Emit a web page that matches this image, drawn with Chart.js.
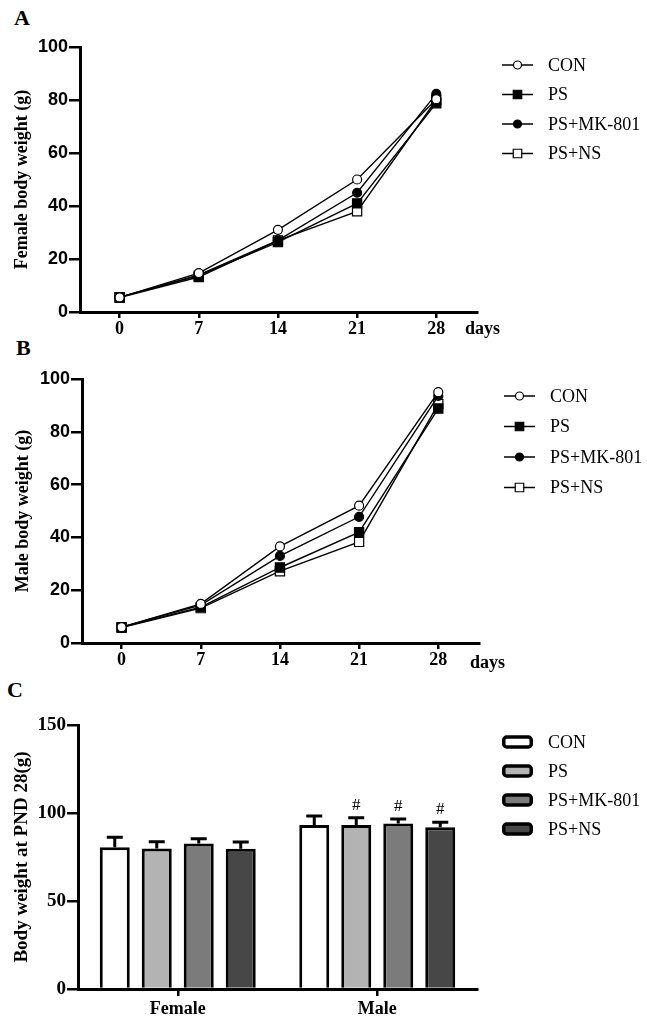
<!DOCTYPE html>
<html>
<head>
<meta charset="utf-8">
<script src="https://cdn.jsdelivr.net/npm/chart.js@4.4.1/dist/chart.umd.min.js"></script>
<style>
  body { margin: 0; background: #fff; }
  #wrap { position: relative; width: 647px; height: 1022px; }
  canvas { position: absolute; left: 0; }
  .tag { position: absolute; font: bold 22px "Liberation Serif", "Times New Roman", serif; line-height: 1; color: #000; }
</style>
</head>
<body>
<div id="wrap">
  <div class="tag" style="left:14px;top:7px">A</div>
  <div class="tag" style="left:16px;top:337px">B</div>
  <div class="tag" style="left:7px;top:679px">C</div>
  <canvas id="chartA" width="647" height="340" style="top:0;width:647px;height:340px"></canvas>
  <canvas id="chartB" width="647" height="335" style="top:340px;width:647px;height:335px"></canvas>
  <canvas id="chartC" width="647" height="347" style="top:675px;width:647px;height:347px"></canvas>
</div>
<script>
const serif = '"Liberation Serif", "Times New Roman", serif';
const sans = '"Liberation Sans", Arial, sans-serif';

// data
const days = [0, 7, 14, 21, 28];
const groupNames = ["CON", "PS", "PS+MK-801", "PS+NS"];

const femaleCon = [5.5, 14.7, 31.0, 50.0, 80.3];
const femalePs = [5.6, 13.7, 26.4, 41.0, 78.8];
const femaleMk = [5.5, 14.0, 27.0, 45.0, 82.3];
const femaleNs = [5.4, 13.2, 27.0, 38.0, 80.0];

const maleCon = [6.0, 14.8, 36.6, 52.0, 95.0];
const malePs = [6.0, 13.6, 28.6, 42.0, 88.8];
const maleMk = [6.0, 14.4, 33.0, 47.8, 93.6];
const maleNs = [5.8, 13.2, 27.2, 38.3, 90.5];

const sexes = ["Female", "Male"];
const pndCon = [80.5, 93.2];
const pndPs = [79.9, 93.2];
const pndMk = [82.6, 94.1];
const pndNs = [79.7, 91.9];
const semCon = [5.7, 5.1];
const semPs = [3.8, 4.1];
const semMk = [2.8, 2.5];
const semNs = [3.8, 2.8];
const marksCon = ["", ""];
const marksPs = ["", "#"];
const marksMk = ["", "#"];
const marksNs = ["", "#"];

const weightTicks = [0, 20, 40, 60, 80, 100];

// styles
const markers = [
  { pointStyle: "circle", pointRadius: 4.5, pointBackgroundColor: "#fff" },
  { pointStyle: "rect", pointRadius: 6.5, pointBackgroundColor: "#000" },
  { pointStyle: "circle", pointRadius: 4.5, pointBackgroundColor: "#000" },
  { pointStyle: "rect", pointRadius: 6.5, pointBackgroundColor: "#fff" },
];
const barFills = ["#ffffff", "#b3b3b3", "#7b7b7b", "#474747"];

//legend at the right side
const sideLegend = {
  id: "sideLegend",
  afterDraw(chart, args, opts) {
    const ctx = chart.ctx;
    ctx.save();
    chart.data.datasets.forEach((ds, i) => {
      const y = opts.y + i * opts.gap;
      if (opts.kind === "line") {
        ctx.strokeStyle = "#000";
        ctx.lineWidth = 1.5;
        ctx.beginPath();
        ctx.moveTo(opts.x, y);
        ctx.lineTo(opts.x + 31, y);
        ctx.stroke();
        ctx.fillStyle = ds.pointBackgroundColor;
        ctx.lineWidth = ds.pointBorderWidth;
        Chart.helpers.drawPoint(ctx, {
          pointStyle: ds.pointStyle, radius: ds.pointRadius - 0.5, rotation: 0, borderWidth: ds.pointBorderWidth,
        }, opts.x + 15.5, y);
      } else {
        ctx.fillStyle = ds.backgroundColor;
        ctx.strokeStyle = "#000";
        ctx.lineWidth = 3.5;
        ctx.beginPath();
        ctx.roundRect(opts.x + 1.75, y - 5, 27.5, 10, 3);
        ctx.fill();
        ctx.stroke();
      }
      ctx.fillStyle = "#000";
      ctx.font = "18px " + serif;
      ctx.textAlign = "left";
      ctx.textBaseline = "middle";
      ctx.fillText(ds.label, opts.textX, y + 1);
    });
    ctx.restore();
  },
};

//"days" after the last tick
const axisNote = {
  id: "axisNote",
  afterDraw(chart, args, opts) {
    if (!opts.text) return;
    const ctx = chart.ctx;
    ctx.save();
    ctx.fillStyle = "#000";
    ctx.font = "bold 18px " + serif;
    ctx.textBaseline = "middle";
    ctx.fillText(opts.text, opts.x, opts.y);
    ctx.restore();
  },
};

//one-sided error bars and # marks
const errorBars = {
  id: "errorBars",
  afterDatasetsDraw(chart) {
    if (chart.config.type !== "bar") return;
    const ctx = chart.ctx;
    const ys = chart.scales.y;
    ctx.save();
    ctx.strokeStyle = "#000";
    ctx.lineWidth = 3;
    chart.data.datasets.forEach((ds, i) => {
      chart.getDatasetMeta(i).data.forEach((bar, j) => {
        const top = ys.getPixelForValue(ds.data[j] + ds.sem[j]);
        ctx.beginPath();
        ctx.moveTo(bar.x, bar.y);
        ctx.lineTo(bar.x, top);
        ctx.moveTo(bar.x - 8, top);
        ctx.lineTo(bar.x + 8, top);
        ctx.stroke();
        if (ds.marks[j]) {
          ctx.fillStyle = "#000";
          ctx.font = "17px " + serif;
          ctx.textAlign = "center";
          ctx.textBaseline = "bottom";
          ctx.fillText(ds.marks[j], bar.x, top - 4);
        }
      });
    });
    ctx.restore();
  },
};

function lineSets(series) {
  return series.map((vals, i) => ({
    label: groupNames[i],
    data: days.map((d, k) => ({ x: d, y: vals[k] })),
    borderColor: "#000",
    borderWidth: 1.4,
    pointBorderColor: "#000",
    pointBorderWidth: 1.2,
    ...markers[i],
  }));
}

function weightChart(id, series, title, box) {
  return new Chart(document.getElementById(id), {
    type: "line",
    data: { datasets: lineSets(series) },
    plugins: [sideLegend, axisNote],
    options: {
      responsive: false,
      animation: false,
      layout: { padding: { left: 0, right: box.right, top: box.top, bottom: 0 } },
      plugins: {
        legend: { display: false },
        tooltip: { enabled: false },
        sideLegend: { kind: "line", x: box.legX, y: box.legY, gap: box.legGap, textX: box.legX + 46 },
        axisNote: { text: "days", x: box.daysX, y: box.daysY },
      },
      scales: {
        x: {
          type: "linear",
          min: -3.5,
          max: 31.6,
          afterBuildTicks: (s) => { s.ticks = days.map((v) => ({ value: v })); },
          afterFit: (s) => { s.height = box.xh; },
          border: { color: "#000", width: 3 },
          grid: { drawOnChartArea: false, color: "#000", lineWidth: 2.5, tickLength: 6 },
          ticks: { color: "#000", padding: 1, font: { family: serif, size: 18, weight: "bold" } },
        },
        y: {
          min: 0,
          max: 100,
          afterBuildTicks: (s) => { s.ticks = weightTicks.map((v) => ({ value: v })); },
          afterFit: (s) => { s.width = box.left; },
          border: { color: "#000", width: 3 },
          grid: { drawOnChartArea: false, color: "#000", lineWidth: 2.5, tickLength: 11 },
          ticks: { color: "#000", padding: 1, font: { family: sans, size: 18, weight: "bold" } },
          title: {
            display: true,
            text: title,
            color: "#000",
            padding: { top: box.titlePad, bottom: 0 },
            font: { family: serif, size: 18, weight: "bold" },
          },
        },
      },
    },
  });
}

weightChart("chartA", [femaleCon, femalePs, femaleMk, femaleNs], "Female body weight (g)", {
  left: 80, right: 170, top: 47, xh: 28,
  legX: 502, legY: 65, legGap: 29.5,
  daysX: 465, daysY: 329, titlePad: 12,
});

weightChart("chartB", [maleCon, malePs, maleMk, maleNs], "Male body weight (g)", {
  left: 82, right: 168, top: 39, xh: 32,
  legX: 504, legY: 56, legGap: 30.5,
  daysX: 470, daysY: 323, titlePad: 13,
});

new Chart(document.getElementById("chartC"), {
  type: "bar",
  data: {
    labels: sexes,
    datasets: [
      { label: groupNames[0], data: pndCon, sem: semCon, marks: marksCon },
      { label: groupNames[1], data: pndPs, sem: semPs, marks: marksPs },
      { label: groupNames[2], data: pndMk, sem: semMk, marks: marksMk },
      { label: groupNames[3], data: pndNs, sem: semNs, marks: marksNs },
    ].map((ds, i) => ({
      ...ds,
      backgroundColor: barFills[i],
      borderColor: "#000",
      borderWidth: 3,
      categoryPercentage: 0.842,
      barPercentage: 0.714,
    })),
  },
  plugins: [sideLegend, errorBars],
  options: {
    responsive: false,
    animation: false,
    layout: { padding: { left: 0, right: 170, top: 50, bottom: 0 } },
    plugins: {
      legend: { display: false },
      tooltip: { enabled: false },
      sideLegend: { kind: "bar", x: 502, y: 67, gap: 29, textX: 548 },
    },
    scales: {
      x: {
        afterFit: (s) => { s.height = 33; },
        border: { color: "#000", width: 3 },
        grid: { offset: false, drawOnChartArea: false, color: "#000", lineWidth: 2.5, tickLength: 7 },
        ticks: { color: "#000", padding: 3, font: { family: serif, size: 18, weight: "bold" } },
      },
      y: {
        min: 0,
        max: 150,
        ticks: { stepSize: 50, color: "#000", padding: 1, font: { family: serif, size: 19, weight: "bold" } },
        afterFit: (s) => { s.width = 78; },
        border: { color: "#000", width: 3 },
        grid: { drawOnChartArea: false, color: "#000", lineWidth: 2.5, tickLength: 11 },
        title: {
          display: true,
          text: "Body weight at PND 28(g)",
          color: "#000",
          padding: { top: 11, bottom: 0 },
          font: { family: serif, size: 19, weight: "bold" },
        },
      },
    },
  },
});
</script>
</body>
</html>
